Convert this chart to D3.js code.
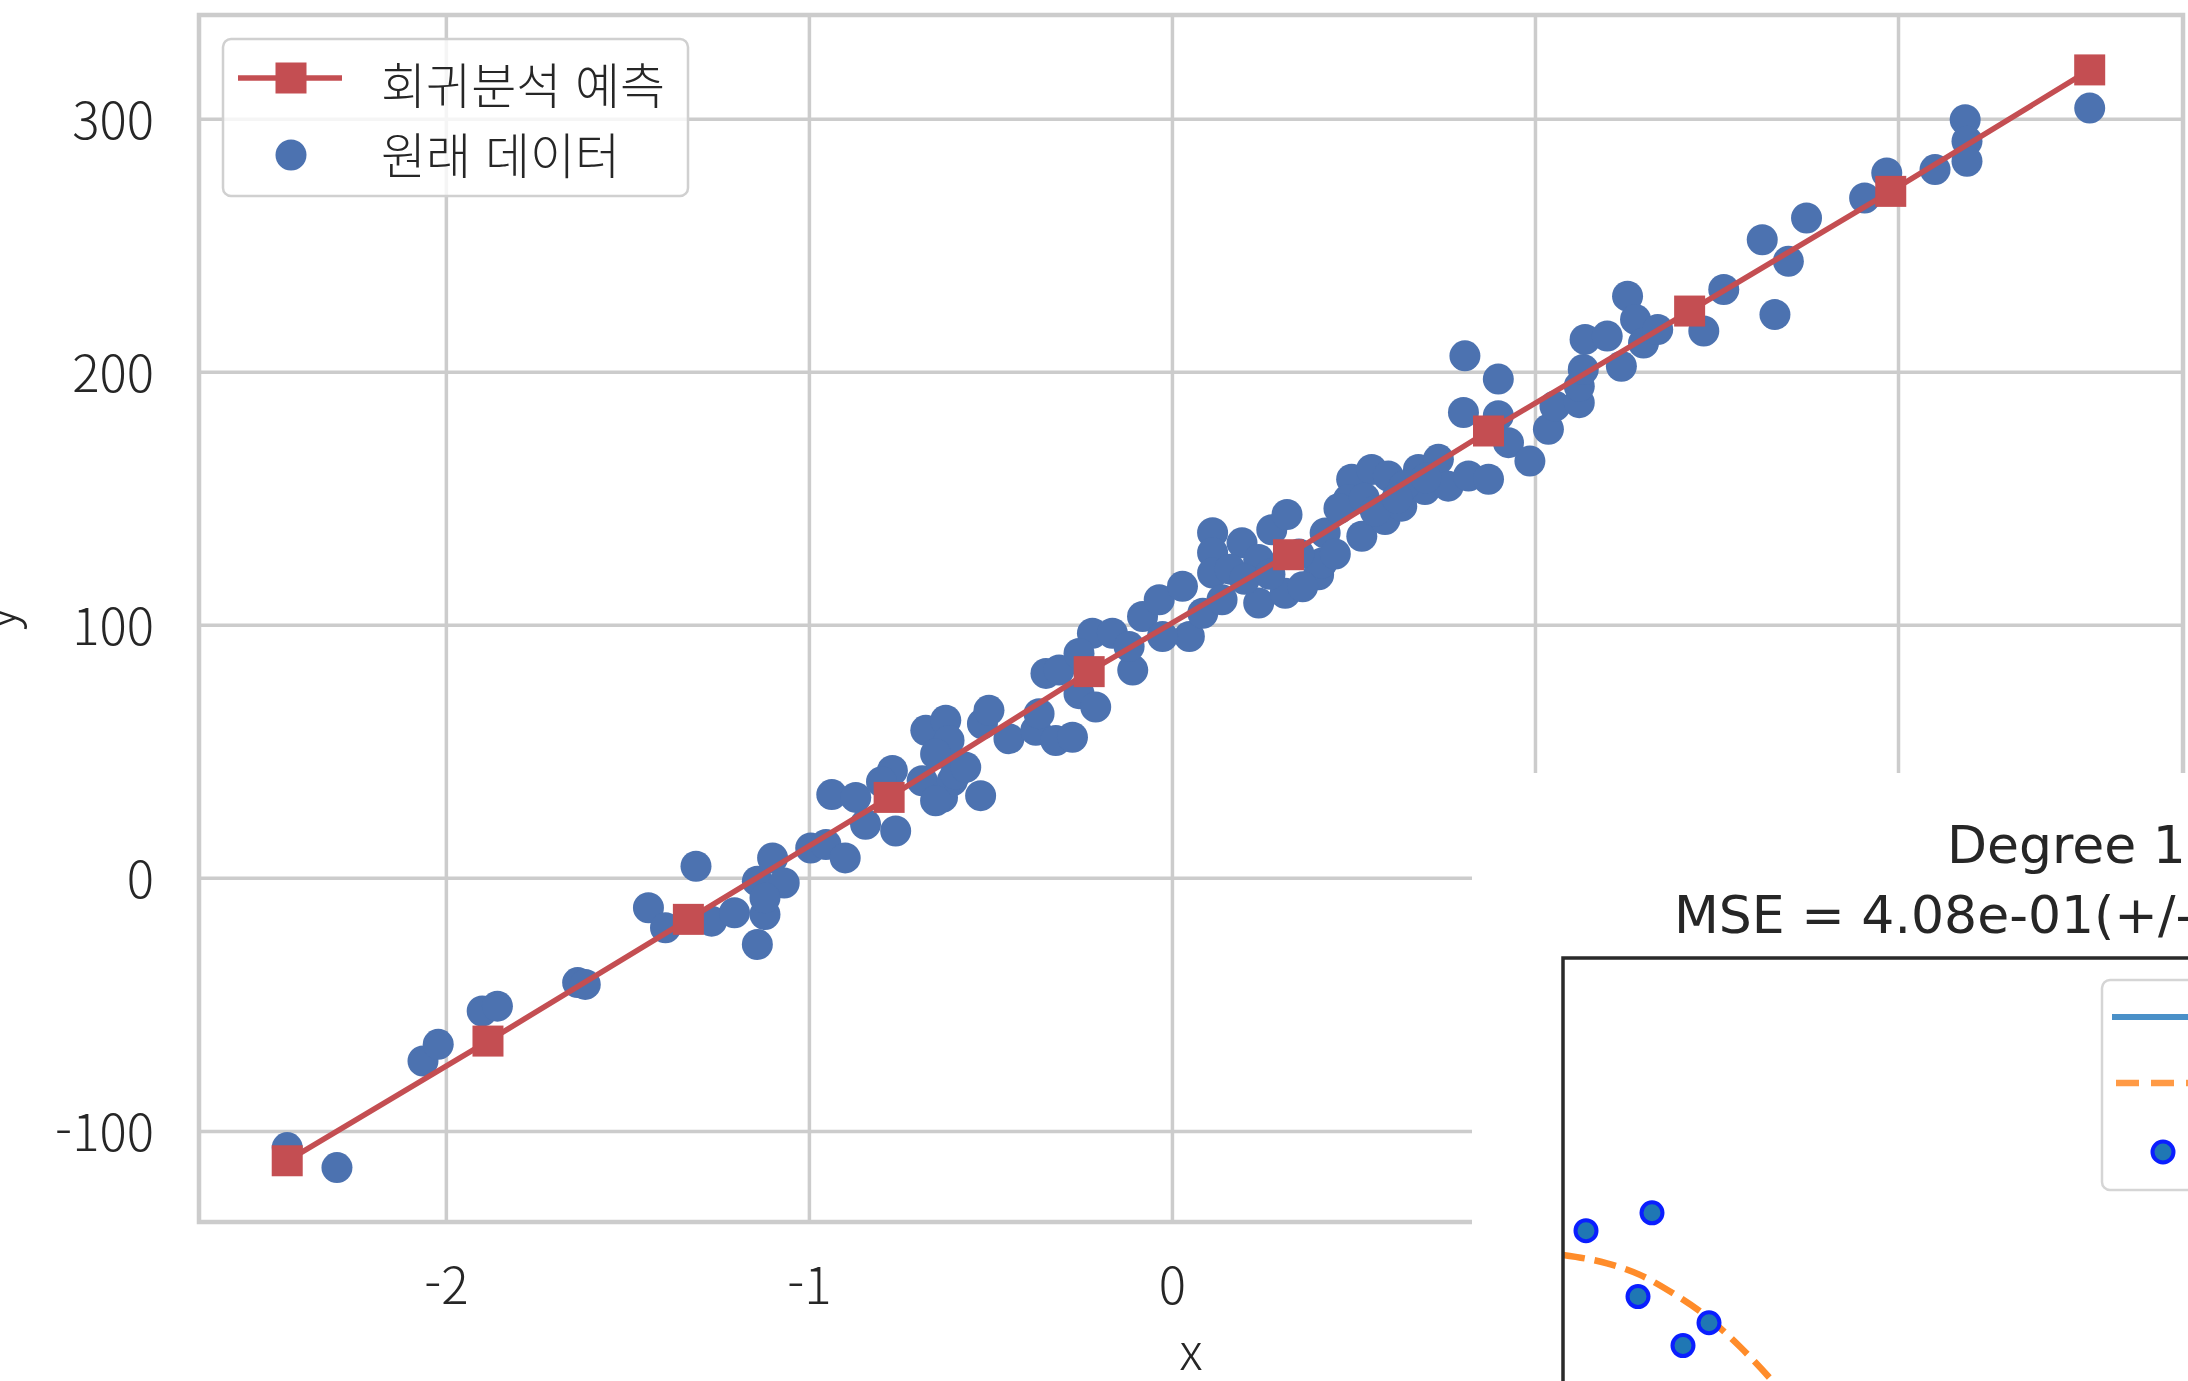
<!DOCTYPE html>
<html lang="ko">
<head>
<meta charset="UTF-8">
<title>회귀분석 예측</title>
<script src="https://d3js.org/d3.v7.min.js"></script>
<style>
    body { margin: 0; background: #fff; }
    svg { display: block; }
    .tick text { font-family: "Noto Sans CJK KR", "Noto Sans", sans-serif; fill: #262626; }
    .lbl { font-family: "Noto Sans CJK KR", "Noto Sans", sans-serif; fill: #262626; }
    .mpl { font-family: "DejaVu Sans", sans-serif; fill: #262626; }
</style>
</head>
<body>
<svg id="chart" width="2188" height="1381"></svg>
<script>
// original data (blue dots)
const pointX = [-2.437, -2.300, -2.063, -2.021, -1.900, -1.858, -1.637, -1.616, -1.442, -1.395,
    -1.311, -1.268, -1.205, -1.142, -1.142, -1.100, -1.068, -1.121, -1.121, -0.995,
    -0.953, -0.937, -0.900, -0.871, -0.844, -0.761, -0.770, -0.688, -0.678, -0.623,
    -0.614, -0.632, -0.605, -0.596, -0.527, -0.522, -0.504, -0.449, -0.375, -0.366,
    -0.320, -0.274, -0.347, -0.311, -0.256, -0.210, -0.219, -0.256, -0.164, -0.108,
    -0.081, -0.035, 0.029, 0.048, 0.085, 0.112, 0.112, 0.112, -0.118, -0.026,
    -0.651, -0.568, -0.651, -0.800, 0.138, 0.193, 0.239, 0.239, 0.275, 0.317,
    0.312, 0.404, 0.422, 0.413, 0.495, 0.486, 0.523, 0.550, 0.596, 0.587,
    0.633, 0.679, 0.697, 0.734, 0.761, 0.817, 0.872, 0.807, 0.899, 0.803,
    0.899, 0.927, 0.986, 1.037, 1.055, 1.122, 1.122, 1.133, 1.138, 1.199,
    1.238, 1.255, 1.277, 1.299, 1.338, 1.465, 1.520, 1.626, 1.698, 1.748,
    1.661, 1.908, 1.969, 2.102, 2.185, 2.190, 2.190, 2.528, 0.160, 0.200,
    0.350, 0.460, 0.530, 0.640, 0.270, 0.360, 0.450, 0.560, 0.620, 0.700];
const pointY = [-106.6, -114.5, -72.4, -65.8, -52.6, -50.7, -41.4, -42.1, -11.8, -19.7,
    4.6, -17.1, -13.8, -26.3, -1.3, 7.9, -2.0, -14.5, -7.9, 11.8,
    13.2, 32.9, 7.9, 31.8, 21.2, 18.5, 42.4, 38.4, 58.3, 62.3,
    54.3, 31.8, 38.4, 41.0, 32.5, 60.9, 66.2, 55.0, 58.3, 64.9,
    54.3, 55.6, 80.8, 82.1, 72.8, 67.5, 96.7, 88.7, 96.7, 82.1,
    103.3, 109.9, 115.2, 95.4, 104.6, 136.4, 128.5, 120.5, 91.4, 95.4,
    49.0, 43.7, 30.5, 38.0, 109.9, 132.4, 108.6, 125.8, 137.6, 143.6,
    112.5, 119.8, 136.3, 124.4, 157.5, 149.5, 135.0, 161.4, 158.8, 141.6,
    146.9, 161.4, 153.5, 165.4, 154.8, 158.8, 157.5, 206.3, 197.1, 183.9,
    182.6, 172.0, 164.7, 177.3, 186.5, 187.8, 194.3, 200.9, 212.8, 214.1,
    202.2, 229.9, 220.7, 211.4, 216.7, 216.1, 232.5, 252.2, 243.7, 260.8,
    222.6, 268.7, 278.6, 279.9, 299.6, 291.1, 283.2, 304.2, 122.0, 118.0,
    128.0, 146.0, 150.0, 155.0, 120.0, 115.0, 128.0, 145.0, 150.0, 158.0];

// regression prediction (red squares)
const predX = [-2.437, -1.884, -1.332, -0.779, -0.228, 0.321, 0.872, 1.426, 1.980, 2.528];
const predY = [-111.8, -64.5, -16.4, 31.8, 81.5, 127.7, 176.6, 224.0, 271.3, 319.3];

const xTicks = [-2, -1, 0, 1, 2];
const yTicks = [-100, 0, 100, 200, 300];
const legendLabels = ["회귀분석 예측", "원래 데이터"];

// pasted-over corner figure
const sampleX = [0.023, 0.089, 0.075, 0.120, 0.146];
const sampleY = [1.082, 1.142, 0.860, 0.695, 0.772];
const curveX = [0.000, 0.044, 0.077, 0.110, 0.144, 0.177, 0.207, 0.215];
const curveY = [1.000, 0.972, 0.933, 0.871, 0.792, 0.691, 0.585, 0.555];
const insetTitle = ["Degree 1", "MSE = 4.08e-01(+/-"];

const blue = "#4c72b0", red = "#c44e52", grid = "#cccccc";
const svg = d3.select("#chart");

// main axes box
const axL = 199, axR = 2183, axT = 15, axB = 1222;
const x = d3.scaleLinear().domain([-2.68, 2.785]).range([axL, axR]);
const y = d3.scaleLinear().domain([-136, 341]).range([axB, axT]);

// grid + tick labels
const gx = svg.append("g")
    .attr("transform", `translate(0,${axB})`)
    .call(d3.axisBottom(x).tickValues(xTicks).tickSize(-(axB - axT)).tickPadding(46)
        .tickFormat(d => String(d)));
const gy = svg.append("g")
    .attr("transform", `translate(${axL},0)`)
    .call(d3.axisLeft(y).tickValues(yTicks).tickSize(-(axR - axL)).tickPadding(45)
        .tickFormat(d => String(d)));
[gx, gy].forEach(g => {
    g.select(".domain").remove();
    g.selectAll(".tick line").attr("stroke", grid).attr("stroke-width", 3.5);
    g.selectAll(".tick text").style("font-size", "51px").style("font-weight", 300);
});
gy.selectAll(".tick text").attr("dy", "0.38em");

// spines
svg.append("rect")
    .attr("x", axL).attr("y", axT)
    .attr("width", axR - axL).attr("height", axB - axT)
    .attr("fill", "none").attr("stroke", grid).attr("stroke-width", 4.5);

// axis labels
svg.append("text").attr("class", "lbl")
    .attr("x", (axL + axR) / 2).attr("y", 1370)
    .attr("text-anchor", "middle").style("font-size", "50px").style("font-weight", 300).text("x");
svg.append("text").attr("class", "lbl")
    .attr("transform", `translate(15,${(axT + axB) / 2}) rotate(-90)`)
    .attr("text-anchor", "middle").style("font-size", "50px").style("font-weight", 300).text("y");

// data points
svg.append("g").selectAll("circle")
    .data(pointX.map((v, i) => [v, pointY[i]]))
    .join("circle")
    .attr("cx", d => x(d[0])).attr("cy", d => y(d[1]))
    .attr("r", 15.5).attr("fill", blue);

// prediction line with square markers
const pred = predX.map((v, i) => [v, predY[i]]);
svg.append("path")
    .datum(pred)
    .attr("d", d3.line().x(d => x(d[0])).y(d => y(d[1])))
    .attr("fill", "none").attr("stroke", red).attr("stroke-width", 5.5);
svg.append("g").selectAll("rect")
    .data(pred)
    .join("rect")
    .attr("x", d => x(d[0]) - 15.5).attr("y", d => y(d[1]) - 15.5)
    .attr("width", 31).attr("height", 31).attr("fill", red);

// legend
const lg = svg.append("g");
lg.append("rect")
    .attr("x", 223).attr("y", 39).attr("width", 465).attr("height", 157).attr("rx", 8)
    .attr("fill", "#fff").attr("fill-opacity", 0.8)
    .attr("stroke", "#d0d0d0").attr("stroke-width", 2.5);
lg.append("line").attr("x1", 238).attr("x2", 342).attr("y1", 78).attr("y2", 78)
    .attr("stroke", red).attr("stroke-width", 5.5);
lg.append("rect").attr("x", 291 - 15.5).attr("y", 78 - 15.5)
    .attr("width", 31).attr("height", 31).attr("fill", red);
lg.append("circle").attr("cx", 291).attr("cy", 155).attr("r", 15.5).attr("fill", blue);
lg.selectAll("text.lbl")
    .data(legendLabels)
    .join("text").attr("class", "lbl")
    .attr("x", 381).attr("y", (d, i) => 82 + i * 70)
    .attr("dominant-baseline", "central")
    .style("font-size", "49px").style("font-weight", 300).text(d => d);

// ---- pasted corner of a second figure ----
svg.append("rect")
    .attr("x", 1472).attr("y", 773).attr("width", 2188 - 1472).attr("height", 1381 - 773)
    .attr("fill", "#fff");

const ox = d3.scaleLinear().domain([0, 1]).range([1563, 2563]);
const oy = d3.scaleLinear().domain([-2, 2]).range([2146, 958]);

svg.append("text").attr("class", "mpl")
    .attr("x", 1947).attr("y", 863).style("font-size", "52px").text(insetTitle[0]);
svg.append("text").attr("class", "mpl")
    .attr("x", 1674).attr("y", 933).style("font-size", "52px").text(insetTitle[1]);

svg.append("path")
    .datum(curveX.map((v, i) => [v, curveY[i]]))
    .attr("d", d3.line().curve(d3.curveMonotoneX).x(d => ox(d[0])).y(d => oy(d[1])))
    .attr("fill", "none").attr("stroke", "#ff8c2a").attr("stroke-width", 6.5)
    .attr("stroke-dasharray", "22,10");

svg.append("g").selectAll("circle")
    .data(sampleX.map((v, i) => [v, sampleY[i]]))
    .join("circle")
    .attr("cx", d => ox(d[0])).attr("cy", d => oy(d[1]))
    .attr("r", 10.5).attr("fill", "#1f77b4").attr("stroke", "#0a1eff").attr("stroke-width", 4);

// inset frame
svg.append("path")
    .attr("d", `M${ox(0)},1400V${oy(2)}H2200`)
    .attr("fill", "none").attr("stroke", "#2a2a2a").attr("stroke-width", 3.5);

// inset legend (clipped by the picture edge)
const il = svg.append("g");
il.append("rect")
    .attr("x", 2102).attr("y", 980).attr("width", 200).attr("height", 210).attr("rx", 8)
    .attr("fill", "#fff").attr("stroke", "#d5d5d5").attr("stroke-width", 2.5);
il.append("line").attr("x1", 2112).attr("x2", 2200).attr("y1", 1017).attr("y2", 1017)
    .attr("stroke", "#4a90c8").attr("stroke-width", 6);
il.append("line").attr("x1", 2116).attr("x2", 2200).attr("y1", 1083).attr("y2", 1083)
    .attr("stroke", "#ff9a45").attr("stroke-width", 6.5).attr("stroke-dasharray", "23,12");
il.append("circle").attr("cx", 2163).attr("cy", 1152).attr("r", 10.5)
    .attr("fill", "#1f77b4").attr("stroke", "#0a1eff").attr("stroke-width", 4);
</script>
</body>
</html>
